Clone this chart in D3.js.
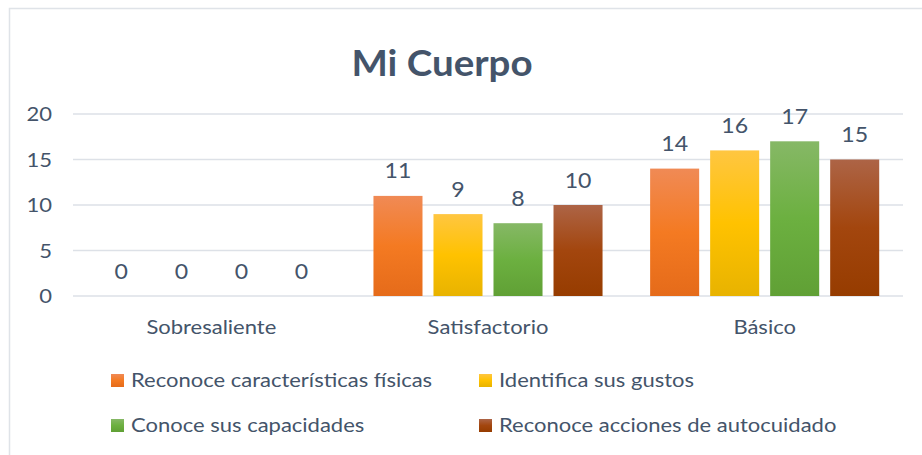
<!DOCTYPE html>
<html>
<head>
<meta charset="utf-8">
<script src="https://cdn.jsdelivr.net/npm/d3@7"></script>
<style>
  html, body { margin: 0; padding: 0; background: #fff; }
  text { font-family: Lato, "Open Sans", sans-serif; fill: #44546a; }
</style>
</head>
<body>
<div id="chart"></div>
<script>
var categories = ["Sobresaliente", "Satisfactorio", "Básico"];
var seriesNames = [
  "Reconoce características físicas",
  "Identifica sus gustos",
  "Conoce sus capacidades",
  "Reconoce acciones de autocuidado"
];
var fisicas = [0, 11, 14];
var gustos = [0, 9, 16];
var capacidades = [0, 8, 17];
var autocuidado = [0, 10, 15];
var yTicks = [0, 5, 10, 15, 20];
var title = "Mi Cuerpo";

var seriesValues = [fisicas, gustos, capacidades, autocuidado];
// top, middle, bottom of each bar gradient
var gradients = [
  ["#f08a55", "#f47a22", "#e56b1a"],
  ["#ffc641", "#ffc200", "#e8b300"],
  ["#86b866", "#6cb040", "#60a035"],
  ["#ad6446", "#a3460e", "#963c00"]
];

var width = 922, height = 455;
var stretch = 1.1;

var svg = d3.select("#chart").append("svg")
  .attr("width", width)
  .attr("height", height);

var defs = svg.append("defs");
gradients.forEach(function (g, i) {
  var lg = defs.append("linearGradient")
    .attr("id", "grad" + i)
    .attr("x1", 0).attr("y1", 0).attr("x2", 0).attr("y2", 1);
  lg.append("stop").attr("offset", "0%").attr("stop-color", g[0]);
  lg.append("stop").attr("offset", "50%").attr("stop-color", g[1]);
  lg.append("stop").attr("offset", "100%").attr("stop-color", g[2]);
});

// chart frame
svg.append("rect")
  .attr("x", 9.5).attr("y", 8.5)
  .attr("width", 1000).attr("height", 1000)
  .attr("fill", "none")
  .attr("stroke", "#dfe3e8")
  .attr("stroke-width", 1.5);

function label(sel, x, y, s) {
  return sel.attr("transform", "translate(" + x + "," + y + ") scale(" + (s || stretch) + ",1)");
}

label(svg.append("text"), 442, 76, 1.07)
  .attr("text-anchor", "middle")
  .attr("font-size", 36)
  .attr("font-weight", "bold")
  .text(title);

var y = d3.scaleLinear().domain([0, 20]).range([296, 114]);
var x0 = d3.scaleBand().domain(categories).range([73, 903])
  .paddingInner(0.172).paddingOuter(0.086);
var x1 = d3.scaleBand().domain(d3.range(seriesNames.length))
  .range([0, x0.bandwidth()]).paddingInner(0.183);

// gridlines
svg.append("g").selectAll("line")
  .data(yTicks)
  .join("line")
  .attr("x1", 73).attr("x2", 903)
  .attr("y1", function (d) { return y(d); })
  .attr("y2", function (d) { return y(d); })
  .attr("stroke", "#dde1e7")
  .attr("stroke-width", 1.5);

// y tick labels
svg.append("g").selectAll("text")
  .data(yTicks)
  .join("text")
  .each(function (d) { label(d3.select(this), 52, y(d) + 7); })
  .attr("text-anchor", "end")
  .attr("font-size", 20)
  .text(function (d) { return d; });

// category labels
svg.append("g").selectAll("text")
  .data(categories)
  .join("text")
  .each(function (d) { label(d3.select(this), x0(d) + x0.bandwidth() / 2, 334); })
  .attr("text-anchor", "middle")
  .attr("font-size", 20)
  .text(function (d) { return d; });

// bars
var groups = svg.append("g").selectAll("g")
  .data(categories)
  .join("g")
  .attr("transform", function (d) { return "translate(" + x0(d) + ",0)"; });

groups.each(function (cat, ci) {
  var g = d3.select(this);
  var vals = seriesValues.map(function (s, si) { return { si: si, v: s[ci] }; });
  g.selectAll("rect")
    .data(vals.filter(function (d) { return d.v > 0; }))
    .join("rect")
    .attr("x", function (d) { return x1(d.si); })
    .attr("width", x1.bandwidth())
    .attr("y", function (d) { return y(d.v); })
    .attr("height", function (d) { return y(0) - y(d.v); })
    .attr("fill", function (d) { return "url(#grad" + d.si + ")"; });
  g.selectAll("text")
    .data(vals)
    .join("text")
    .each(function (d) { label(d3.select(this), x1(d.si) + x1.bandwidth() / 2, y(d.v) - 17.5); })
    .attr("text-anchor", "middle")
    .attr("font-size", 21)
    .text(function (d) { return d.v; });
});

// legend
var legendPos = [[111, 387], [479, 387], [111, 432], [479, 432]];
var legend = svg.append("g").selectAll("g")
  .data(seriesNames)
  .join("g");
legend.append("rect")
  .attr("x", function (d, i) { return legendPos[i][0]; })
  .attr("y", function (d, i) { return legendPos[i][1] - 13; })
  .attr("width", 13).attr("height", 13)
  .attr("fill", function (d, i) { return "url(#grad" + i + ")"; });
legend.append("text")
  .each(function (d, i) { label(d3.select(this), legendPos[i][0] + 20, legendPos[i][1]); })
  .attr("font-size", 20)
  .text(function (d) { return d; });
</script>
</body>
</html>
